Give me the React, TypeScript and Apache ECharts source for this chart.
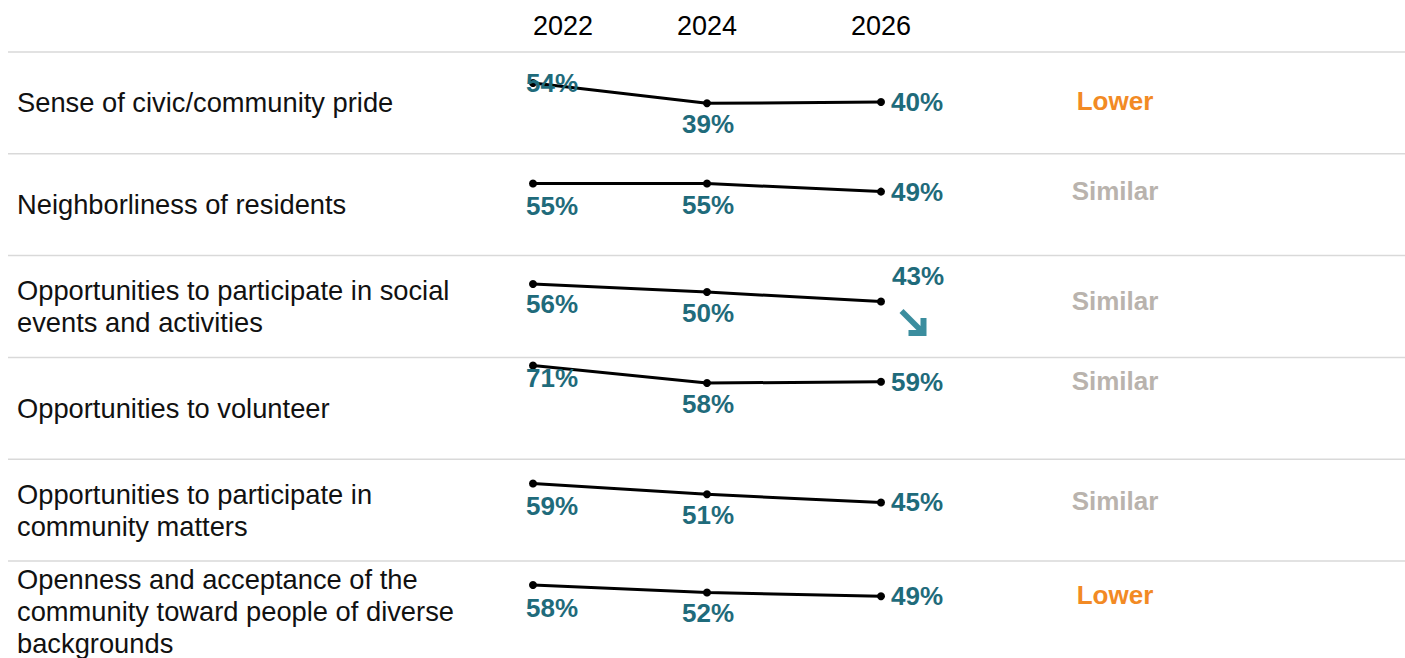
import React, { useEffect, useRef } from "react";
import * as echarts from "echarts";

// ---------- data ----------
const years = [2022, 2024, 2026];
const categories = [
  "Sense of civic/community pride",
  "Neighborliness of residents",
  "Opportunities to participate in social\nevents and activities",
  "Opportunities to volunteer",
  "Opportunities to participate in\ncommunity matters",
  "Openness and acceptance of the\ncommunity toward people of diverse\nbackgrounds",
];
const civicPride = [54, 39, 40];
const neighborliness = [55, 55, 49];
const socialEvents = [56, 50, 43];
const volunteer = [71, 58, 59];
const communityMatters = [59, 51, 45];
const openness = [58, 52, 49];
const seriesValues = [civicPride, neighborliness, socialEvents, volunteer, communityMatters, openness];
const comparisons = ["Lower", "Similar", "Similar", "Similar", "Similar", "Lower"];
const declineArrowRows = [2];

// ---------- styles / layout ----------
const FONT = '"Liberation Sans", Arial, Helvetica, sans-serif';
const VALUE_COLOR = "#1f6b7b";
const ARROW_COLOR = "#3b8d9e";
const COMPARE_COLORS: Record<string, string> = { Lower: "#f28a24", Similar: "#b9b3ad", Higher: "#1f6b7b" };
const ROW_TOP = 52;
const ROW_H = 101.8;
const GRID_LEFT = 533;
const GRID_RIGHT = 1405 - 881;
const GRID_H = 104;
const Y_MIN = 0;
const Y_MAX = 77;
const labelOffsets = [
  [[19, 0], [1, 21], [36, 0]],
  [[19, 22], [1, 21], [36, 0]],
  [[19, 20], [1, 21], [37, -26]],
  [[19, 12], [1, 21], [36, 0]],
  [[19, 22], [1, 21], [36, 0]],
  [[19, 23], [1, 21], [36, 0]],
];
const ARROW_PATH = "path://M6,2 L23,19 L23,11 L29,11 L29,29 L11,29 L11,23 L19,23 L2,6 Z";

export default function App() {
  const ref = useRef<HTMLDivElement>(null);

  useEffect(() => {
    if (!ref.current) return;
    const chart = echarts.init(ref.current, null, { renderer: "svg" });

    const grids: any[] = [];
    const xAxes: any[] = [];
    const yAxes: any[] = [];
    const series: any[] = [];
    const graphics: any[] = [];

    seriesValues.forEach((vals, i) => {
      const top = ROW_TOP + i * ROW_H;
      grids.push({ left: GRID_LEFT, right: GRID_RIGHT, top, height: GRID_H, containLabel: false });
      xAxes.push({
        type: "value",
        gridIndex: i,
        min: years[0],
        max: years[years.length - 1],
        interval: 2,
        position: "top",
        show: i === 0,
        axisLine: { show: false },
        axisTick: { show: false },
        splitLine: { show: false },
        axisLabel: {
          show: i === 0,
          fontSize: 27,
          fontFamily: FONT,
          color: "#000",
          margin: 13,
          alignMinLabel: "left",
          formatter: (v: number) => String(v),
        },
      });
      yAxes.push({ type: "value", gridIndex: i, min: Y_MIN, max: Y_MAX, show: false });

      const markData = declineArrowRows.includes(i)
        ? [
            {
              coord: [years[years.length - 1], vals[vals.length - 1]],
              symbol: ARROW_PATH,
              symbolSize: [27, 27],
              symbolOffset: [32, 21],
              itemStyle: { color: ARROW_COLOR },
              label: { show: false },
            },
          ]
        : [];

      series.push({
        type: "line",
        xAxisIndex: i,
        yAxisIndex: i,
        data: vals.map((v, j) => ({
          value: [years[j], v],
          label: { offset: labelOffsets[i][j] },
        })),
        symbol: "circle",
        symbolSize: 8,
        itemStyle: { color: "#000" },
        lineStyle: { color: "#000", width: 3 },
        label: {
          show: true,
          position: "inside",
          formatter: (p: any) => p.value[1] + "%",
          fontSize: 26,
          fontWeight: "bold",
          fontFamily: FONT,
          color: VALUE_COLOR,
        },
        markPoint: markData.length ? { data: markData, silent: true } : undefined,
        z: 3,
      });

      series.push({
        type: "scatter",
        xAxisIndex: i,
        yAxisIndex: i,
        data: [[years[years.length - 1], vals[vals.length - 1]]],
        symbolSize: 1,
        itemStyle: { color: "rgba(0,0,0,0)", opacity: 1 },
        label: {
          show: true,
          position: "inside",
          offset: [234, -1],
          formatter: () => comparisons[i],
          fontSize: 26,
          fontWeight: "bold",
          fontFamily: FONT,
          color: COMPARE_COLORS[comparisons[i]],
        },
        z: 2,
      });

      graphics.push({
        type: "line",
        shape: { x1: 8, y1: top, x2: 1405, y2: top },
        style: { stroke: "#d9d9d9", lineWidth: 1.5 },
        silent: true,
      });
      graphics.push({
        type: "text",
        x: 17,
        y: top + ROW_H / 2,
        style: {
          text: categories[i],
          fill: "#111",
          font: `27.3px ${FONT}`,
          lineHeight: 32,
          verticalAlign: "middle",
          align: "left",
        },
        silent: true,
      });
    });

    chart.setOption({
      animation: false,
      backgroundColor: "#fff",
      grid: grids,
      xAxis: xAxes,
      yAxis: yAxes,
      series,
      graphic: graphics,
    });

    return () => chart.dispose();
  }, []);

  return (
    <div
      ref={ref}
      style={{ position: "fixed", left: 0, top: 0, width: 1405, height: 658, background: "#fff" }}
    />
  );
}
